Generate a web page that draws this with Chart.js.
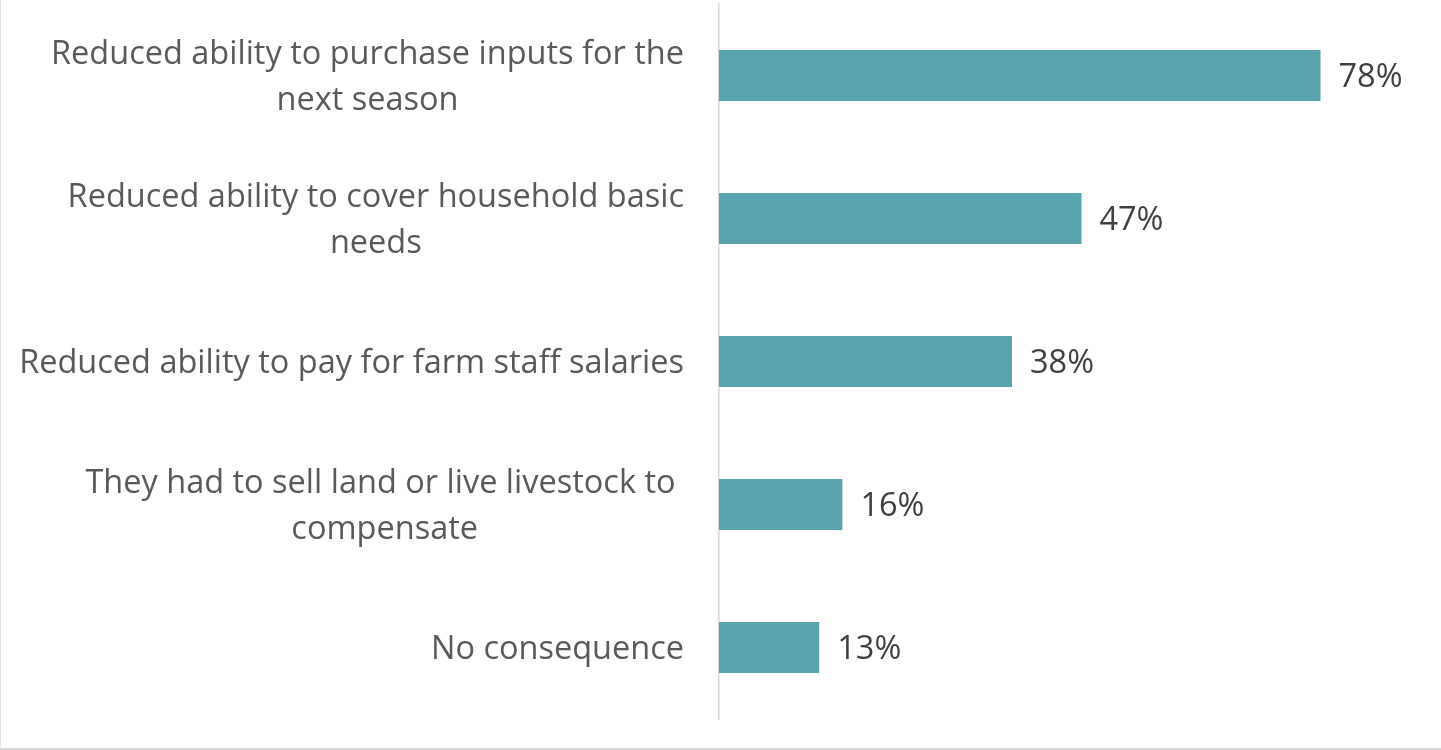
<!DOCTYPE html>
<html>
<head>
<meta charset="utf-8">
<script src="https://cdn.jsdelivr.net/npm/chart.js@4.4.1/dist/chart.umd.min.js"></script>
<style>
    html, body { margin: 0; padding: 0; background: #fff; }
    #wrap {
        width: 1440px;
        height: 748px;
        border-left: 1px solid #e3e3e3;
        border-bottom: 2px solid #d9d9d9;
        position: relative;
    }
</style>
</head>
<body>
<div id="wrap"><canvas id="chart"></canvas></div>
<script>
// ===== DATA =====
const categories = [
    ['Reduced ability to purchase inputs for the', 'next season'],
    ['Reduced ability to cover household basic', 'needs'],
    ['Reduced ability to pay for farm staff salaries'],
    ['They had to sell land or live livestock to ', 'compensate'],
    ['No consequence']
];
const values = [78, 47, 38, 16, 13];
const xMin = 0;
const xMax = 92.2;

const LABEL_FONT = '32.5px "Open Sans"';
const LABEL_COLOR = '#595959';
const VALUE_COLOR = '#404040';
const BAR_COLOR = '#58a4ae';

// draws wrapped category labels (centred block, right-aligned) + value labels
const labelPlugin = {
    id: 'labels',
    afterDraw(chart) {
        const ctx = chart.ctx;
        const yScale = chart.scales.y;
        const right = chart.chartArea.left - 35;
        const lineH = 46;

        ctx.save();
        ctx.font = LABEL_FONT;
        ctx.fillStyle = LABEL_COLOR;
        ctx.textBaseline = 'middle';
        ctx.textAlign = 'center';
        categories.forEach((lines, i) => {
            const yc = yScale.getPixelForValue(i) + 2;
            const widest = Math.max(...lines.map(l => ctx.measureText(l).width));
            const cx = right - widest / 2;
            const top = yc - (lines.length - 1) * lineH / 2;
            lines.forEach((l, j) => ctx.fillText(l, cx, top + j * lineH));
        });

        ctx.fillStyle = VALUE_COLOR;
        ctx.textAlign = 'left';
        const meta = chart.getDatasetMeta(0);
        meta.data.forEach((bar, i) => {
            ctx.fillText(values[i] + '%', bar.x + 18, bar.y + 2);
        });
        ctx.restore();
    }
};

function createChart() {
    const ctx = document.getElementById('chart');
    new Chart(ctx.getContext('2d'), {
        type: 'bar',
        data: {
            labels: categories,
            datasets: [{
                data: values,
                backgroundColor: BAR_COLOR,
                borderWidth: 0,
                barPercentage: 0.357,
                categoryPercentage: 1.0
            }]
        },
        options: {
            indexAxis: 'y',
            responsive: true,
            maintainAspectRatio: false,
            animation: false,
            layout: { padding: { top: 4, bottom: 29, right: 11, left: 0 } },
            plugins: {
                legend: { display: false },
                tooltip: { enabled: false }
            },
            scales: {
                x: {
                    display: false,
                    min: xMin,
                    max: xMax
                },
                y: {
                    grid: { display: false },
                    ticks: { display: false },
                    border: { display: true, color: '#d9d9d9', width: 1.5 },
                    afterFit: s => { s.width = 718; }
                }
            }
        },
        plugins: [labelPlugin]
    });
}

createChart();
</script>
</body>
</html>
